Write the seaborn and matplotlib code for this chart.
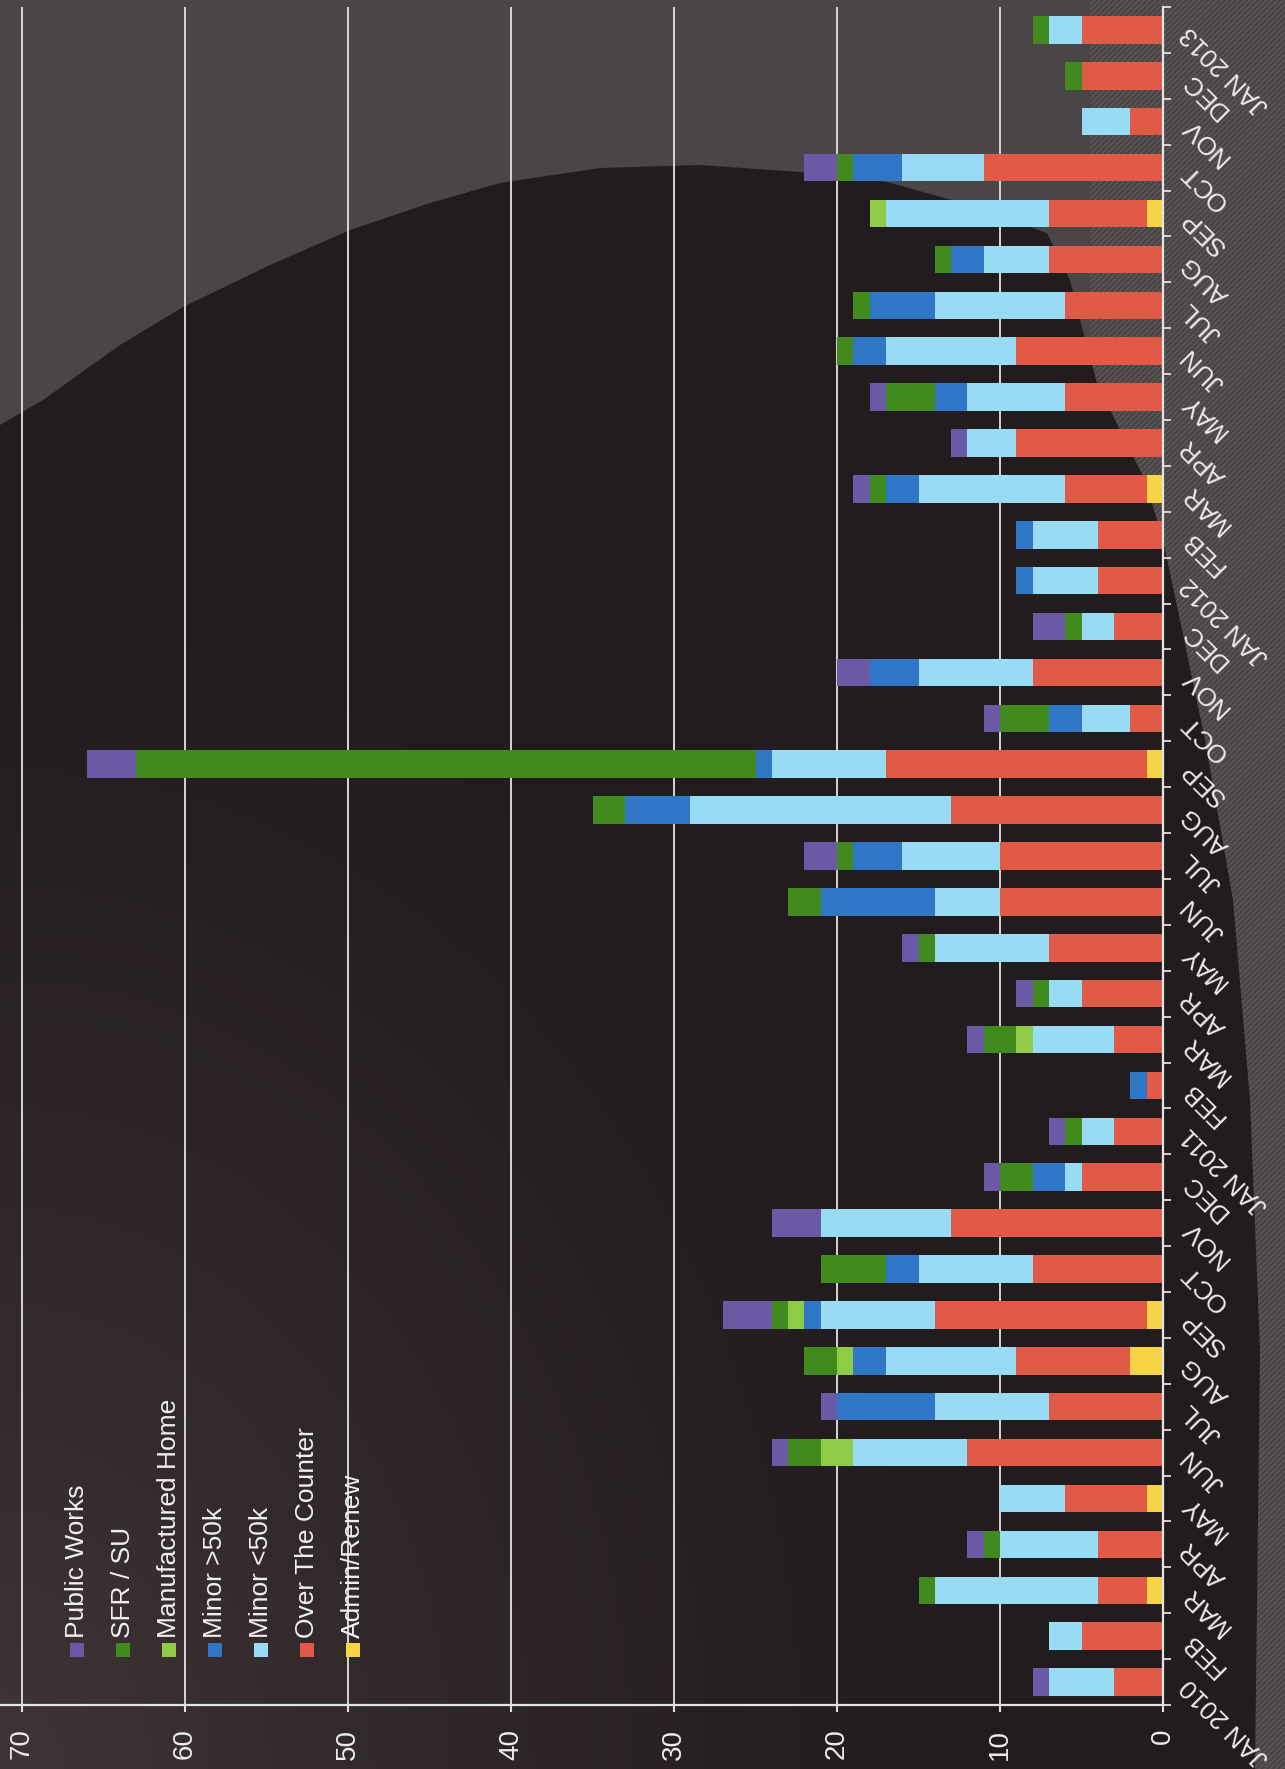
import numpy as np
import pandas as pd
import matplotlib
matplotlib.use("Agg")
import matplotlib.pyplot as plt
import seaborn as sns
from matplotlib.patches import Polygon, Rectangle

# ---- monthly permit counts, JAN 2010 .. JAN 2013 ----
month_keys = [f"{y}-{m:02d}" for y in (2010, 2011, 2012) for m in range(1, 13)] + ["2013-01"]
month_names = ["JAN", "FEB", "MAR", "APR", "MAY", "JUN", "JUL", "AUG", "SEP", "OCT", "NOV", "DEC"]
month_labels = [("JAN " + k[:4]) if k.endswith("-01") else month_names[int(k[5:]) - 1] for k in month_keys]

admin_renew = [0, 0, 1, 0, 1, 0, 0, 2, 1, 0, 0, 0,
               0, 0, 0, 0, 0, 0, 0, 0, 1, 0, 0, 0,
               0, 0, 1, 0, 0, 0, 0, 0, 1, 0, 0, 0,
               0]
over_the_counter = [3, 5, 3, 4, 5, 12, 7, 7, 13, 8, 13, 5,
                    3, 1, 3, 5, 7, 10, 10, 13, 16, 2, 8, 3,
                    4, 4, 5, 9, 6, 9, 6, 7, 6, 11, 2, 5,
                    5]
minor_under_50k = [4, 2, 10, 6, 4, 7, 7, 8, 7, 7, 8, 1,
                   2, 0, 5, 2, 7, 4, 6, 16, 7, 3, 7, 2,
                   4, 4, 9, 3, 6, 8, 8, 4, 10, 5, 3, 0,
                   2]
minor_over_50k = [0, 0, 0, 0, 0, 0, 6, 2, 1, 2, 0, 2,
                  0, 1, 0, 0, 0, 7, 3, 4, 1, 2, 3, 0,
                  1, 1, 2, 0, 2, 2, 4, 2, 0, 3, 0, 0,
                  0]
manufactured_home = [0, 0, 0, 0, 0, 2, 0, 1, 1, 0, 0, 0,
                     0, 0, 1, 0, 0, 0, 0, 0, 0, 0, 0, 0,
                     0, 0, 0, 0, 0, 0, 0, 0, 1, 0, 0, 0,
                     0]
sfr_su = [0, 0, 1, 1, 0, 2, 0, 2, 1, 4, 0, 2,
          1, 0, 2, 1, 1, 2, 1, 2, 38, 3, 0, 1,
          0, 0, 1, 0, 3, 1, 1, 1, 0, 1, 0, 1,
          1]
public_works = [1, 0, 0, 1, 0, 1, 1, 0, 3, 0, 3, 1,
                1, 0, 1, 1, 1, 0, 2, 0, 3, 1, 2, 2,
                0, 0, 1, 1, 1, 0, 0, 0, 0, 2, 0, 0,
                0]

# stacking order, starting from zero
series = ["Admin/Renew", "Over The Counter", "Minor <50k", "Minor >50k",
          "Manufactured Home", "SFR / SU", "Public Works"]
palette = {
    "Admin/Renew": "#f6d444",
    "Over The Counter": "#e05a45",
    "Minor <50k": "#97dbf4",
    "Minor >50k": "#2f77c6",
    "Manufactured Home": "#8fcb47",
    "SFR / SU": "#408a1e",
    "Public Works": "#6a5aa6",
}

df = pd.DataFrame({
    "month": month_keys,
    "Admin/Renew": admin_renew,
    "Over The Counter": over_the_counter,
    "Minor <50k": minor_under_50k,
    "Minor >50k": minor_over_50k,
    "Manufactured Home": manufactured_home,
    "SFR / SU": sfr_su,
    "Public Works": public_works,
})
cum = df[series].cumsum(axis=1)
cum["month"] = df["month"]

sns.set_theme(style="dark")
plt.rcParams["font.family"] = ["Liberation Sans", "DejaVu Sans"]
plt.rcParams["hatch.linewidth"] = 1.0

W, H = 1285, 1769
fig = plt.figure(figsize=(W / 100, H / 100), dpi=100)
fig.patch.set_facecolor("#4a4647")


def px(points):
    return [(x / 100, (H - y) / 100) for x, y in points]


# backdrop: hatched strip on the right, dark disc behind the plot
fig.add_artist(Rectangle((1090 / 100, 0), (W - 1090) / 100, H / 100,
                         transform=fig.dpi_scale_trans, facecolor="#4a4445",
                         edgecolor="#5e5859", hatch="//////", linewidth=0, zorder=-5))
dark_outline = [(0, 425), (43, 400), (120, 345), (183, 307), (270, 265), (350, 230),
                (430, 203), (500, 183), (600, 168), (700, 165), (800, 172), (887, 182),
                (970, 205), (1047, 233), (1070, 280), (1080, 320), (1097, 383),
                (1120, 430), (1145, 480), (1163, 540), (1180, 620), (1205, 740),
                (1233, 900), (1250, 1100), (1260, 1350), (1255, H), (0, H)]
fig.add_artist(Polygon(px(dark_outline), closed=True, transform=fig.dpi_scale_trans,
                       facecolor="#221c1e", edgecolor="none", zorder=-4))

# soft brownish glow towards the lower-left corner
yy, xx = np.mgrid[0:H, 0:W]
dist = np.hypot(xx / 1.0, (H - yy) / 1.25)
glow = np.zeros((H, W, 4))
glow[..., 0] = 0x4a / 255
glow[..., 1] = 0x3c / 255
glow[..., 2] = 0x3e / 255
glow[..., 3] = 0.75 * np.clip(1 - dist / 1000.0, 0, 1) ** 1.3
glow[:int(H * 0.0), :, 3] = 0
fig.figimage(glow, xo=0, yo=0, origin="upper", zorder=-3)

ax = fig.add_axes([0, (H - 1705) / H, 1163 / W, (1705 - 7) / H])
ax.patch.set_alpha(0)

# stacked bars: draw running totals from the outermost segment inwards
for name in reversed(series):
    sns.barplot(data=cum, x=name, y="month", order=month_keys, orient="h",
                color=palette[name], saturation=1, width=0.6, linewidth=0, ax=ax)

ax.set_ylim(-0.5, len(month_keys) - 0.5)
ax.set_xlim(70 + 22 / 16.3, 0)
ax.set_xlabel("")
ax.set_ylabel("")

# value axis
ax.set_xticks(range(0, 71, 10))
ax.set_xticklabels([str(v) for v in range(0, 71, 10)], rotation=90,
                   fontsize=20, color="#ececec")
ax.tick_params(axis="x", direction="out", length=5, width=1.5, color="#e0e0e0",
               pad=12, bottom=True)
ax.grid(axis="x", color="#d6d6d6", linewidth=1.4)
ax.grid(axis="y", visible=False)
ax.set_axisbelow(True)

# month axis on the right
ax.yaxis.tick_right()
ax.set_yticks(range(len(month_keys)))
ax.set_yticklabels([])
ax.set_yticks(np.arange(-0.5, len(month_keys), 1.0), minor=True)
ax.tick_params(axis="y", which="major", length=0, right=False)
ax.tick_params(axis="y", which="minor", direction="out", length=6, width=1.3,
               color="#e0e0e0", right=True, left=False)
for i, lab in enumerate(month_labels):
    ax.text(1.019, i, lab, transform=ax.get_yaxis_transform(), rotation=135,
            rotation_mode="anchor", ha="right", va="center", fontsize=18.5,
            color="#ececec", clip_on=False)

for side in ("top", "left"):
    ax.spines[side].set_visible(False)
for side in ("bottom", "right"):
    ax.spines[side].set_visible(True)
    ax.spines[side].set_color("#e4e4e4")
    ax.spines[side].set_linewidth(1.6)

# legend, reading upwards from the bottom-left
legend_order = ["Public Works", "SFR / SU", "Manufactured Home", "Minor >50k",
                "Minor <50k", "Over The Counter", "Admin/Renew"]
for k, name in enumerate(legend_order):
    cx = 77 + k * 46.0
    fig.add_artist(Rectangle(((cx - 7) / 100, (H - 1657) / 100), 14 / 100, 14 / 100,
                             transform=fig.dpi_scale_trans, facecolor=palette[name],
                             edgecolor="none", zorder=5))
    fig.text(cx / W, (H - 1638) / H, name, rotation=90, rotation_mode="anchor",
             ha="left", va="center", fontsize=19, color="#f0f0f0", zorder=5)

fig.savefig("out.png", dpi=100, facecolor=fig.get_facecolor())
